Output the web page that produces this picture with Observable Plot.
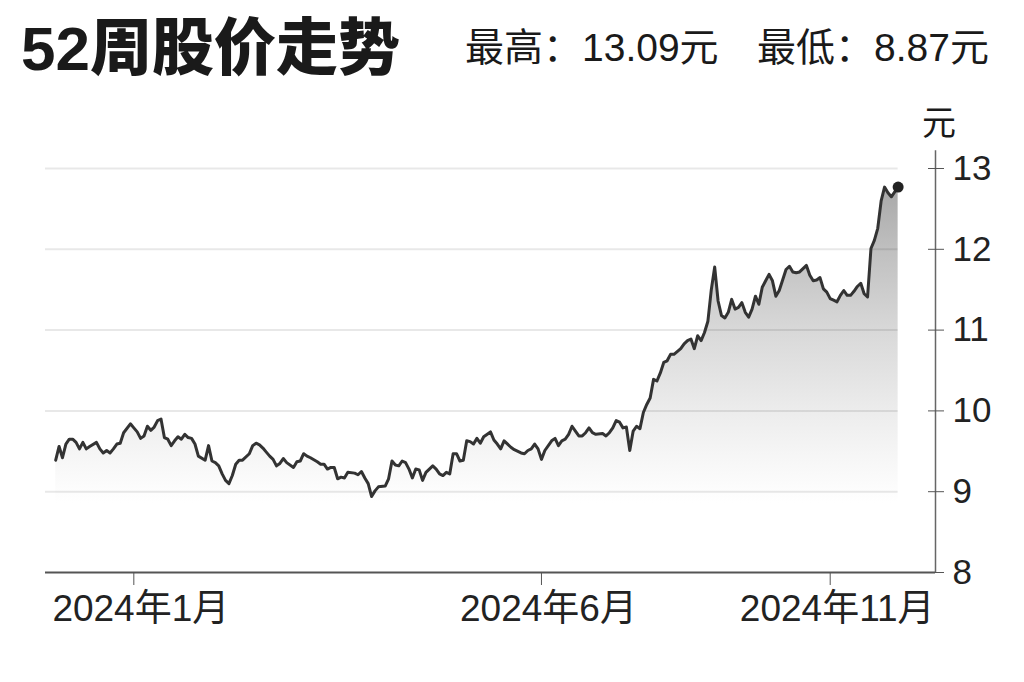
<!DOCTYPE html>
<html><head><meta charset="utf-8">
<script src="https://cdn.jsdelivr.net/npm/d3@7"></script>
<script src="https://cdn.jsdelivr.net/npm/@observablehq/plot@0.6"></script>
<style>
body{margin:0;background:#fff;}
#wrap{position:relative;width:1024px;height:682px;overflow:hidden;font-family:'Liberation Sans','Noto Sans CJK SC',sans-serif;color:#1a1a1a}
#chart{position:absolute;left:0;top:0}
.t{position:absolute;white-space:nowrap;line-height:1}
</style></head><body>
<div id="wrap">
<div id="chart"></div>
<div class="t" style="left:21px;top:18px;font-size:62px;font-weight:900">52周股价走势</div>
<div class="t" style="left:465px;top:28px;font-size:39px">最高：13.09元</div>
<div class="t" style="left:757px;top:28px;font-size:39px">最低：8.87元</div>
<div class="t" style="left:922px;top:106px;font-size:34px">元</div>
</div>
<script>
// trading-day index of each reading
const days = [0,1,2,3,4,5,6,7,8,9,10,12,13,14,15,16,17,18,19,20,22,23,24,25,26,27,28,29,30,31,32,33,34,35,36,37,38,39,40,41,42,44,45,46,47,48,49,50,51,52,53,54,55,57,58,59,60,61,62,63,64,65,66,67,68,70,71,72,73,74,75,77,78,79,80,81,82,83,84,85,86,88,89,90,91,92,93,94,95,97,98,99,100,101,102,103,104,105,106,107,108,109,111,112,113,114,115,116,117,118,119,120,121,122,123,124,125,126,128,129,130,131,132,134,135,137,138,139,140,141,142,143,144,146,147,148,149,150,151,152,153,154,155,156,157,158,159,161,162,163,164,165,166,167,168,169,170,171,172,173,174,175,176,177,178,179,180,181,182,184,185,186,187,188,189,190,191,192,193,194,195,196,197,198,199,200,201,202,203,204,205,206,207,208,209,210,211,212,213,214,215,216,217,218,219,220,221,222,223,224,225,226,227,228,229,230,231,232,233,234,235,236,237,238,239,240,241,242,243,244,245,246,247,248];
// closing price (元)
const prices = [9.39,9.56,9.42,9.59,9.65,9.65,9.61,9.53,9.61,9.53,9.56,9.61,9.53,9.48,9.51,9.48,9.53,9.59,9.60,9.73,9.84,9.79,9.74,9.66,9.69,9.81,9.76,9.80,9.88,9.90,9.67,9.65,9.57,9.63,9.68,9.65,9.71,9.67,9.66,9.59,9.44,9.39,9.57,9.38,9.36,9.32,9.22,9.14,9.10,9.20,9.34,9.39,9.39,9.47,9.57,9.60,9.58,9.54,9.49,9.44,9.40,9.32,9.35,9.41,9.36,9.30,9.37,9.38,9.47,9.44,9.42,9.37,9.34,9.34,9.28,9.30,9.30,9.16,9.18,9.17,9.24,9.23,9.21,9.25,9.17,9.10,8.94,9.01,9.06,9.07,9.16,9.38,9.33,9.32,9.38,9.36,9.28,9.17,9.28,9.27,9.14,9.24,9.32,9.28,9.22,9.20,9.24,9.22,9.47,9.47,9.38,9.39,9.63,9.62,9.59,9.66,9.60,9.68,9.74,9.64,9.59,9.53,9.63,9.55,9.52,9.48,9.47,9.51,9.53,9.59,9.53,9.40,9.51,9.63,9.66,9.57,9.63,9.65,9.71,9.81,9.75,9.69,9.69,9.73,9.79,9.73,9.71,9.72,9.69,9.73,9.79,9.88,9.86,9.79,9.80,9.51,9.75,9.81,9.78,9.98,10.08,10.16,10.39,10.37,10.47,10.60,10.62,10.70,10.70,10.77,10.83,10.87,10.89,10.77,10.93,10.87,10.97,11.11,11.50,11.78,11.36,11.18,11.15,11.22,11.38,11.26,11.28,11.34,11.22,11.16,11.26,11.42,11.32,11.53,11.61,11.69,11.61,11.42,11.49,11.62,11.75,11.79,11.72,11.71,11.72,11.76,11.80,11.68,11.61,11.62,11.65,11.51,11.47,11.39,11.37,11.35,11.43,11.49,11.43,11.43,11.48,11.54,11.58,11.45,11.41,12.01,12.11,12.26,12.60,12.77,12.70,12.65,12.71,12.77];

const xTicks = [23, 143, 228];
const xTickLabels = ["2024年1月", "2024年6月", "2024年11月"];
const yTicks = [8, 9, 10, 11, 12, 13];
const gridValues = [9, 10, 11, 12, 13];
const xDomain = [-3, 259];
const yDomain = [8, 13];
const yAxisTop = 13.22;

const data = days.map((d, i) => ({day: d, price: prices[i]}));
const lastDay = days[days.length - 1];

const gradient = () => {
  const ns = "http://www.w3.org/2000/svg";
  const defs = document.createElementNS(ns, "defs");
  defs.innerHTML = `<linearGradient id="areaGrad" x1="0" y1="0" x2="0" y2="1">
    <stop offset="0" stop-color="#a8a8a8"/>
    <stop offset="0.16" stop-color="#bfbfbf"/>
    <stop offset="0.37" stop-color="#d8d8d8"/>
    <stop offset="0.58" stop-color="#ececec"/>
    <stop offset="0.70" stop-color="#f6f6f6"/>
    <stop offset="0.82" stop-color="#ffffff"/>
    <stop offset="1" stop-color="#ffffff"/>
  </linearGradient>`;
  return defs;
};

const chart = Plot.plot({
  width: 1024,
  height: 682,
  marginTop: 168,
  marginBottom: 110,
  marginLeft: 45,
  marginRight: 89,
  x: {type: "linear", domain: xDomain, label: null},
  y: {domain: yDomain, label: null},
  style: {fontFamily: "'Liberation Sans','Noto Sans CJK SC',sans-serif", color: "#222", background: "transparent", overflow: "visible"},
  marks: [
    gradient,
    Plot.areaY(data, {x: "day", y1: yDomain[0], y2: "price", fill: "url(#areaGrad)"}),
    Plot.ruleY(gridValues, {x1: xDomain[0], x2: lastDay, stroke: "#000", strokeOpacity: 0.09, strokeWidth: 2}),
    Plot.lineY(data, {x: "day", y: "price", stroke: "#333", strokeWidth: 3, strokeLinejoin: "round"}),
    Plot.dot(data.slice(-1), {x: "day", y: "price", r: 5.5, fill: "#222", stroke: "none"}),
    Plot.ruleY([yDomain[0]], {stroke: "#555", strokeWidth: 2}),
    Plot.ruleX([xDomain[1]], {y1: yDomain[0], y2: yAxisTop, stroke: "#666", strokeWidth: 1.5}),
    Plot.axisX({ticks: xTicks, tickSize: 13, tickFormat: () => "", stroke: "#555", label: null}),
    Plot.axisX({ticks: xTicks, tickSize: 0, tickPadding: 22, dx: 7, tickFormat: (d) => xTickLabels[xTicks.indexOf(d)], fontSize: 37, label: null}),
    Plot.axisY({anchor: "right", ticks: yTicks, tickSize: 16, dx: -8, tickFormat: () => "", stroke: "#555", label: null}),
    Plot.axisY({anchor: "right", ticks: yTicks, tickSize: 0, tickPadding: 17, tickFormat: (d) => String(d), fontSize: 35, label: null})
  ]
});
document.getElementById("chart").appendChild(chart);
</script>
</body></html>
